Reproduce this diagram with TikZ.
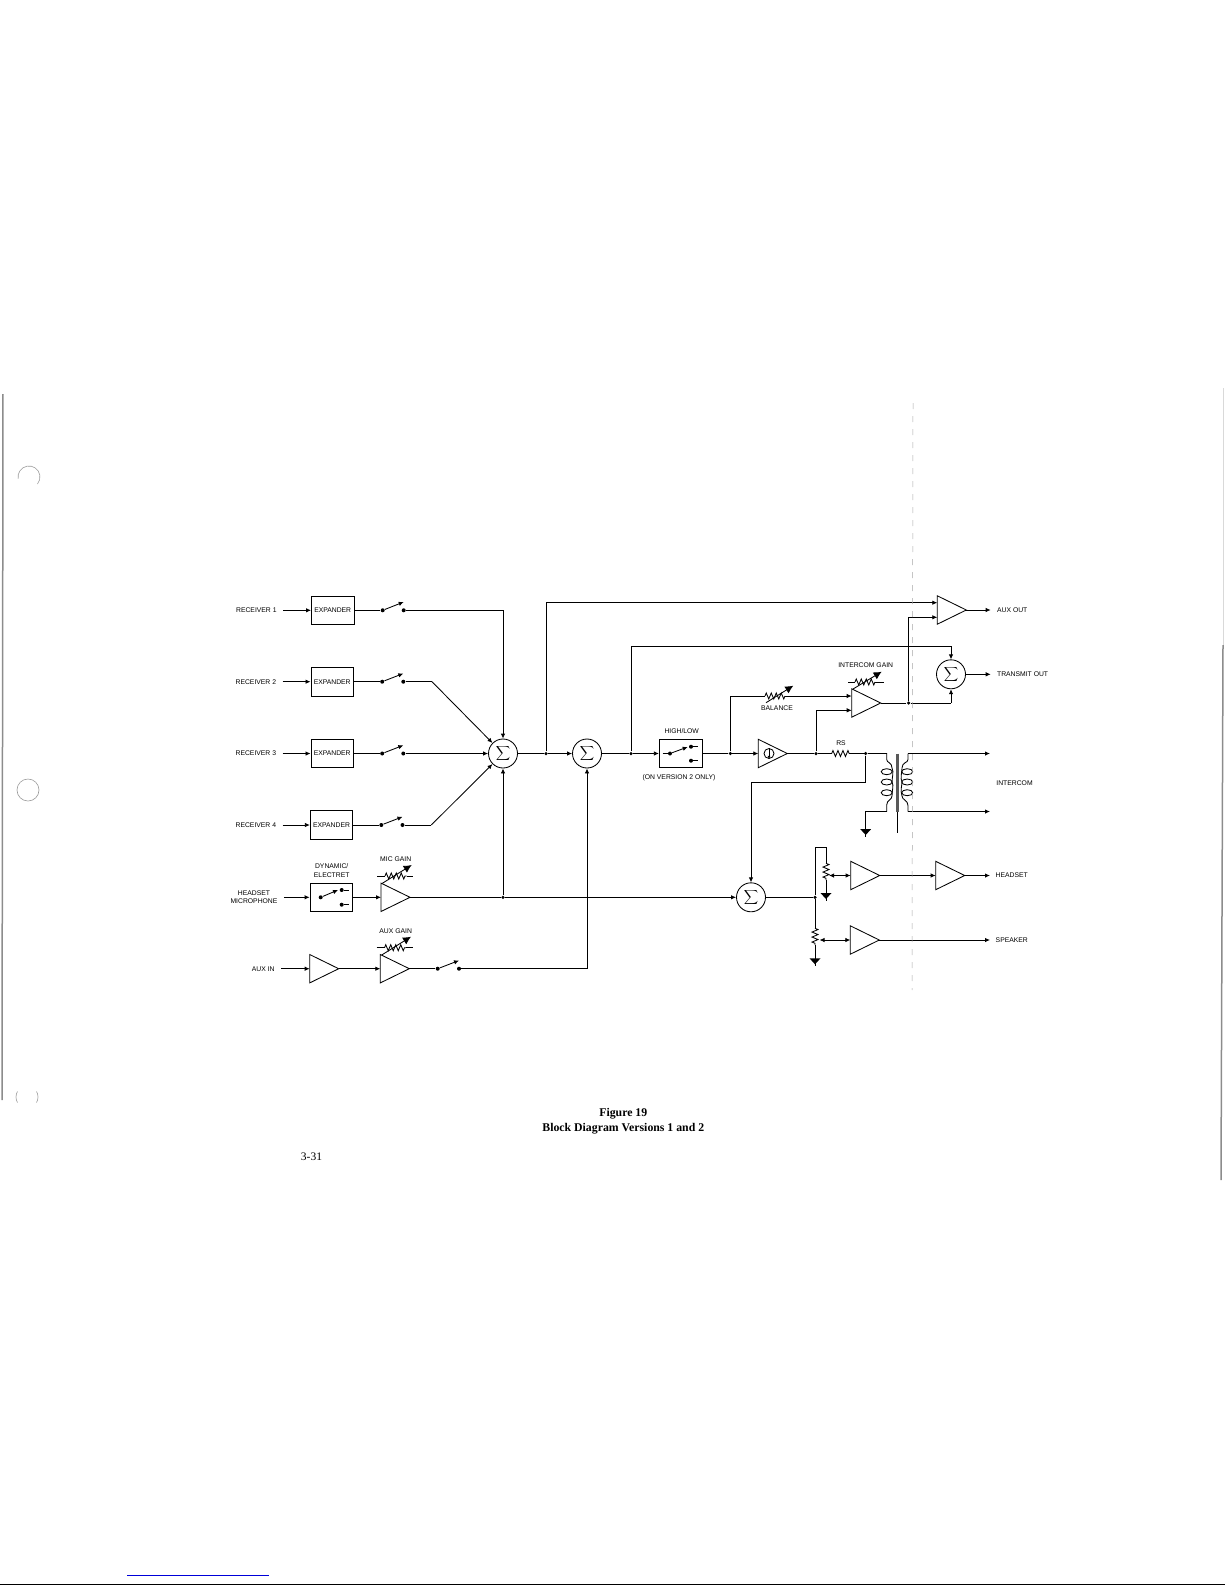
\documentclass[tikz,border=0pt]{standalone}
\usepackage{fontspec}
\newfontfamily\plotfont{Liberation Sans}
\newfontfamily\capfont{Liberation Serif}
\usetikzlibrary{shapes.geometric,arrows.meta,decorations.pathmorphing}
\tikzset{
  lbl/.style={font=\plotfont\fontsize{6.8}{8.4}\selectfont,inner sep=0,align=center},
  box/.style={draw,rectangle,minimum width=42.5,minimum height=28.6,inner sep=0,font=\plotfont\fontsize{6.8}{8.4}\selectfont},
  sumnode/.style={draw,circle,minimum size=29,inner sep=0,font=\fontsize{10}{10}\selectfont},
  amp/.style={draw,isosceles triangle,isosceles triangle stretches,shape border rotate=0,minimum width=28.4,minimum height=29,inner sep=0,outer sep=0,anchor=lower side},
  dot/.style={circle,fill,inner sep=0,minimum size=3.5},
  swdot/.style={circle,fill,inner sep=0,minimum size=4},
  sig/.style={-{Latex[length=5,width=4.5]}},
  sigboth/.style={{Latex[length=5,width=4.5]}-{Latex[length=5,width=4.5]}},
  vary/.style={-{Latex[length=8,width=8]}},
  zig/.style={decorate,decoration={zigzag,segment length=5,amplitude=3}},
  gnd/.pic={
    \fill (-5.5,0) -- (5.5,0) -- (0,6) -- cycle;
    \draw (0,0) -- (0,8);
  }
}
\begin{document}
\begin{tikzpicture}[x=1pt,y=-1pt,line width=0.85pt]
\definecolor{scan}{gray}{0.55}
\useasboundingbox (0,0) rectangle (1225,1585);

% receiver rows
\node[lbl,anchor=east] (reca) at (277,610.3) {RECEIVER 1};
\node[lbl,anchor=east] (recb) at (276.5,681.7) {RECEIVER 2};
\node[lbl,anchor=east] (recc) at (276.5,753.5) {RECEIVER 3};
\node[lbl,anchor=east] (recd) at (276.5,825) {RECEIVER 4};

\node[box] (expa) at (332.7,610.3) {EXPANDER};
\node[box] (expb) at (332.2,681.7) {EXPANDER};
\node[box] (expc) at (332.2,753.5) {EXPANDER};
\node[box] (expd) at (331.5,825) {EXPANDER};

\node[swdot] (swaa) at (382.7,610.3) {};
\node[swdot] (swab) at (403.7,610.3) {};
\node[swdot] (swba) at (382.2,681.7) {};
\node[swdot] (swbb) at (403.3,681.7) {};
\node[swdot] (swca) at (382.2,753.5) {};
\node[swdot] (swcb) at (403.3,753.5) {};
\node[swdot] (swda) at (381.3,825) {};
\node[swdot] (swdb) at (402.5,825) {};
\coordinate (swat) at (403.7,602);
\coordinate (swbt) at (403.3,673.5);
\coordinate (swct) at (403.3,745.3);
\coordinate (swdt) at (402.5,816.8);

\draw[sig,shorten <=6] (reca.east) -- (expa.west);
\draw[sig,shorten <=6] (recb.east) -- (expb.west);
\draw[sig,shorten <=6] (recc.east) -- (expc.west);
\draw[sig,shorten <=6] (recd.east) -- (expd.west);
\draw (expa.east) -- (swaa);
\draw (expb.east) -- (swba);
\draw (expc.east) -- (swca);
\draw (expd.east) -- (swda);
\draw[sig] (swaa) -- (swat);
\draw[sig] (swba) -- (swbt);
\draw[sig] (swca) -- (swct);
\draw[sig] (swda) -- (swdt);

% summing nodes
\node[sumnode] (suma) at (503,753.5) {$\displaystyle\sum$};
\node[sumnode] (sumb) at (587,753.5) {$\displaystyle\sum$};
\node[sumnode] (sumc) at (751,897.3) {$\displaystyle\sum$};
\node[sumnode] (sumd) at (951,674.3) {$\displaystyle\sum$};

\coordinate (bendb) at (432,681.7);
\coordinate (bendd) at (431.3,825);
\draw[sig] (swab) -| (suma.north);
\draw (swbb) -- (bendb);
\draw[sig] (bendb) -- (suma.north west);
\draw[sig] (swcb) -- (suma.west);
\draw (swdb) -- (bendd);
\draw[sig] (bendd) -- (suma.south west);

% headset microphone
\node[lbl] (mic) at (254,897.3) {HEADSET\\MICROPHONE};
\node[lbl] (dyn) at (331.7,870.5) {DYNAMIC/\\ELECTRET};
\node[box] (dynbox) at (331.3,897.3) {};
\node[swdot] (dyna) at (320.7,897.3) {};
\node[swdot] (dynb) at (341.7,890) {};
\node[swdot] (dync) at (341.7,904.7) {};
\coordinate (dynt) at (338,890);
\coordinate (dynbe) at (349,890);
\coordinate (dynce) at (349,904.7);
\draw[sig,shorten <=6] (mic.east |- dynbox.west) -- (dynbox.west);
\draw[sig] (dyna) -- (dynt);
\draw (dynb) -- (dynbe);
\draw (dync) -- (dynce);

\node[amp] (ampa) at (381,897.3) {};
\draw[sig] (dynbox.east) -- (ampa.lower side);
\node[lbl] (micgain) at (395.7,859.3) {MIC GAIN};
\coordinate (micra) at (377.3,876);
\coordinate (micrb) at (385,876);
\coordinate (micrc) at (406.7,876);
\coordinate (micrd) at (413.3,876);
\coordinate (micva) at (382.3,883.3);
\coordinate (micvb) at (411.7,865);
\draw (micra) -- (micrb);
\draw[zig] (micrb) -- (micrc);
\draw (micrc) -- (micrd);
\draw[vary] (micva) -- (micvb);

\node[dot] (jmic) at (503,897.3) {};
\draw (ampa.apex) -- (jmic);
\draw[sig] (jmic) -- (suma.south);
\draw[sig] (jmic) -- (sumc.west);

% aux in
\node[lbl,anchor=east] (auxin) at (275,968.7) {AUX IN};
\node[amp] (ampb) at (309.7,968.7) {};
\node[amp] (ampc) at (380.3,968.7) {};
\draw[sig,shorten <=6] (auxin.east) -- (ampb.lower side);
\draw[sig] (ampb.apex) -- (ampc.lower side);
\node[lbl] (auxgain) at (395.7,930.7) {AUX GAIN};
\coordinate (auxra) at (376.7,947.7);
\coordinate (auxrb) at (384.5,947.7);
\coordinate (auxrc) at (406.2,947.7);
\coordinate (auxrd) at (412.7,947.7);
\coordinate (auxva) at (381.7,955);
\coordinate (auxvb) at (411,936.7);
\draw (auxra) -- (auxrb);
\draw[zig] (auxrb) -- (auxrc);
\draw (auxrc) -- (auxrd);
\draw[vary] (auxva) -- (auxvb);
\node[swdot] (swea) at (437.7,968.7) {};
\node[swdot] (sweb) at (459,968.7) {};
\coordinate (swet) at (459,960.5);
\draw (ampc.apex) -- (swea);
\draw[sig] (swea) -- (swet);
\draw[sig] (sweb) -| (sumb.south);

% middle of the chain
\node[dot] (jaux) at (546,753.5) {};
\node[dot] (jtx) at (631,753.5) {};
\node[box,minimum width=43] (hilo) at (680.8,753.5) {};
\node[lbl] (hilotxt) at (681.7,731) {HIGH/LOW};
\node[lbl] (version) at (679,778) {(ON VERSION 2 ONLY)};
\coordinate (hiloin) at (662.7,753.5);
\node[swdot] (hiloa) at (670,753.5) {};
\coordinate (hilot) at (687.7,747);
\node[swdot] (hilob) at (691,746.7) {};
\node[swdot] (hiloc) at (691,760.7) {};
\coordinate (hilobe) at (698,746.7);
\coordinate (hiloce) at (698,760.7);
\draw (hiloin) -- (hiloa);
\draw[sig] (hiloa) -- (hilot);
\draw (hilob) -- (hilobe);
\draw (hiloc) -- (hiloce);

\draw (suma.east) -- (jaux);
\draw[sig] (jaux) -- (sumb.west);
\draw (sumb.east) -- (jtx);
\draw[sig] (jtx) -- (hilo.west);

\node[dot] (jbal) at (730.3,753.5) {};
\node[amp] (ampe) at (758.3,753.5) {};
\node[draw,circle,minimum size=10,inner sep=0] (isrc) at (769,753.5) {};
\draw[-{Latex[length=3,width=3]},line width=0.6pt] (isrc.north) -- (isrc.south);
\draw (hilo.east) -- (jbal);
\draw[sig] (jbal) -- (ampe.lower side);

\node[dot] (jrsin) at (816,753.5) {};
\node[dot] (jrs) at (865.7,753.5) {};
\node[lbl] (rstxt) at (841,743) {RS};
\coordinate (rsa) at (831.7,753.5);
\coordinate (rsb) at (850,753.5);
\draw (ampe.apex) -- (jrsin);
\draw (jrsin) -- (rsa);
\draw[zig] (rsa) -- (rsb);
\draw (rsb) -- (jrs);

% intercom gain amplifier
\node[amp] (ampf) at (851.7,703) {};
\coordinate (ampfa) at (851.7,696);
\coordinate (ampfb) at (851.7,710.3);
\coordinate (balturn) at (730.3,696);
\coordinate (bala) at (765,696);
\coordinate (balb) at (785,696);
\draw (jbal) -- (balturn) -- (bala);
\draw[zig] (bala) -- (balb);
\draw[sig] (balb) -- (ampfa);
\node[lbl] (baltxt) at (777,708) {BALANCE};
\coordinate (balva) at (766,702.7);
\coordinate (balvb) at (793.3,685.7);
\draw[vary] (balva) -- (balvb);
\draw[sig] (jrsin) |- (ampfb);

\node[lbl] (igaintxt) at (865.7,665) {INTERCOM GAIN};
\coordinate (igra) at (848,682);
\coordinate (igrb) at (855,682);
\coordinate (igrc) at (875,682);
\coordinate (igrd) at (884,682);
\coordinate (igva) at (853,689);
\coordinate (igvb) at (881.7,671.7);
\draw (igra) -- (igrb);
\draw[zig] (igrb) -- (igrc);
\draw (igrc) -- (igrd);
\draw[vary] (igva) -- (igvb);

% outputs on top
\node[amp] (ampd) at (937.3,610) {};
\coordinate (ampda) at (937.3,602.7);
\coordinate (ampdb) at (937.3,617.3);
\node[lbl,anchor=west] (auxout) at (996.7,610) {AUX OUT};
\node[lbl,anchor=west] (txout) at (996.7,674.3) {TRANSMIT OUT};
\draw[sig,shorten >=6] (ampd.apex) -- (auxout.west);
\draw[sig,shorten >=6] (sumd.east) -- (txout.west);
\draw[sig] (jaux) |- (ampda);
\coordinate (txturn) at (631,646);
\coordinate (txcorner) at (951,646);
\draw[sig] (jtx) -- (txturn) -- (txcorner) -- (sumd.north);
\node[dot] (jint) at (908.5,703) {};
\coordinate (txlow) at (951,703);
\draw (ampf.apex) -- (jint);
\draw[sig] (jint) |- (ampdb);
\draw (jint) -- (txlow);
\draw[sig] (txlow) -- (sumd.south);

% transformer
\coordinate (coret) at (897.3,753.5);
\coordinate (coreb) at (897.3,811.5);
\coordinate (corec) at (897.3,832.5);
\draw[line width=3.5pt,black!65] (coret) -- (coreb);
\draw (coreb) -- (corec);
\coordinate (pria) at (886.7,753.5);
\coordinate (prib) at (886.7,811.5);
\coordinate (seca) at (908,753.5);
\coordinate (secb) at (908,811.5);
\draw (jrs) -- (pria) -- ++(0,6) .. controls (886.7,763) and (892,762) .. (892,768)
  .. controls (894,772) and (892,778) .. (892,782)
  .. controls (894,786) and (892,790) .. (892,796)
  .. controls (892,800) and (886.7,800) .. (886.7,805) -- (prib);
\draw (secb) -- ++(0,-6) .. controls (908,800) and (902,800) .. (902,796)
  .. controls (900,790) and (902,786) .. (902,782)
  .. controls (900,778) and (902,772) .. (902,768)
  .. controls (902,762) and (908,763) .. (908,759.5) -- (seca);
\draw (886.7,771.7) ellipse[x radius=5.5,y radius=3];
\draw (886.7,782) ellipse[x radius=5.5,y radius=3];
\draw (886.7,792.7) ellipse[x radius=5.5,y radius=3];
\draw (907.2,771.7) ellipse[x radius=5.5,y radius=3];
\draw (907.2,782) ellipse[x radius=5.5,y radius=3];
\draw (907.2,792.7) ellipse[x radius=5.5,y radius=3];
\coordinate (prigndturn) at (865.7,811.5);
\coordinate (prignd) at (865.7,829);
\draw (prib) -- (prigndturn) -- (prignd);
\pic at (prignd) {gnd};

\node[lbl,anchor=west] (intercom) at (996,783.3) {INTERCOM};
\coordinate (ictop) at (996,753.5);
\coordinate (icbot) at (996,811.5);
\draw[sig,shorten >=6] (seca) -- (ictop);
\draw[sig,shorten >=6] (secb) -- (icbot);

% sidetone to earphones
\coordinate (rstop) at (865.7,782.3);
\coordinate (sumtop) at (751,782.3);
\draw[sig] (jrs) -- (rstop) -- (sumtop) -- (sumc.north);

\node[dot] (jpot) at (815,897.3) {};
\draw (sumc.east) -- (jpot);
\coordinate (potaturn) at (815,847);
\coordinate (potacor) at (826,847);
\coordinate (potaa) at (826,863.3);
\coordinate (potab) at (826,880);
\coordinate (potag) at (826,893);
\coordinate (potaw) at (829,875.5);
\draw (jpot) -- (potaturn) -- (potacor) -- (potaa);
\draw[zig] (potaa) -- (potab);
\draw (potab) -- (potag);
\pic at (potag) {gnd};
\node[amp] (ampg) at (850.7,875.5) {};
\node[amp] (amph) at (935.7,875.5) {};
\draw[sigboth] (potaw) -- (ampg.lower side);
\draw[sig] (ampg.apex) -- (amph.lower side);
\node[lbl,anchor=west] (headset) at (995.3,875.5) {HEADSET};
\draw[sig,shorten >=5.3] (amph.apex) -- (headset.west);

\coordinate (potba) at (815,928.3);
\coordinate (potbb) at (815,945);
\coordinate (potbg) at (815,958.3);
\coordinate (potbw) at (819.5,940);
\draw (jpot) -- (potba);
\draw[zig] (potba) -- (potbb);
\draw (potbb) -- (potbg);
\pic at (potbg) {gnd};
\node[amp] (ampi) at (850.3,940) {};
\draw[sigboth] (potbw) -- (ampi.lower side);
\node[lbl,anchor=west] (speaker) at (995.3,940) {SPEAKER};
\draw[sig,shorten >=5.3] (ampi.apex) -- (speaker.west);

% caption and page number
\node[font=\capfont\bfseries\fontsize{11.8}{14.7}\selectfont,align=center,inner sep=0] (cap) at (623.3,1121.5) {Figure 19\\Block Diagram Versions 1 and 2};
\node[font=\capfont\fontsize{11.5}{14}\selectfont,inner sep=0] (pagenum) at (311.5,1157) {3-31};

% scan marks
\coordinate (folda) at (913,403);
\coordinate (foldb) at (912,990);
\draw[black!35,dash pattern=on 6 off 7,line width=0.5pt] (folda) -- (foldb);
\coordinate (holea) at (29,477);
\coordinate (holeb) at (28,790);
\coordinate (holec) at (27,1097);
\draw[black!40,line width=0.6pt] ([shift={(170:11)}]holea) arc[start angle=170,end angle=400,radius=11];
\draw[black!40,line width=0.6pt] (holeb) circle[radius=11];
\draw[black!40,line width=0.6pt] ([shift={(150:11)}]holec) arc[start angle=150,end angle=210,radius=11];
\draw[black!40,line width=0.6pt] ([shift={(-30:11)}]holec) arc[start angle=-30,end angle=30,radius=11];
\coordinate (lefta) at (3,394);
\coordinate (leftb) at (2,1100);
\draw[scan,line width=1.5pt] (lefta) -- (leftb);
\coordinate (righta) at (1223,388);
\coordinate (rightb) at (1223,645);
\coordinate (rightc) at (1221,1180);
\draw[black!15,line width=1pt] (righta) -- (rightb);
\draw[scan,line width=1.5pt] (rightb) -- (rightc);
\coordinate (bluea) at (127,1575);
\coordinate (blueb) at (269,1575);
\draw[blue!85!black,line width=1pt] (bluea) -- (blueb);
\coordinate (bota) at (0,1584.3);
\coordinate (botb) at (1225,1584.3);
\draw[line width=1.4pt] (bota) -- (botb);
\end{tikzpicture}
\end{document}
